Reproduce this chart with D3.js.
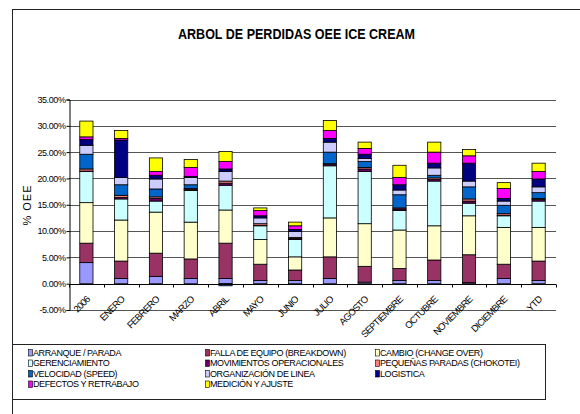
<!DOCTYPE html>
<html><head><meta charset="utf-8">
<script src="https://cdn.jsdelivr.net/npm/d3@7"></script>
<style>
html,body{margin:0;padding:0;background:#fff;}
svg{display:block;font-family:"Liberation Sans",Arial,sans-serif;}
</style></head>
<body><svg id="c" width="580" height="414"></svg>
<script>
const categories = ["2006","ENERO","FEBRERO","MARZO","ABRIL","MAYO","JUNIO","JULIO","AGOSTO","SEPTIEMBRE","OCTUBRE","NOVIEMBRE","DICIEMBRE","YTD"];
const arranque   = [4.0,1.0,1.4,1.0,1.0,0.6,0.6,1.0,0.3,0.6,0.6,0.2,1.0,0.6];
const falla      = [3.7,3.3,4.4,3.7,6.7,3.1,2.0,4.1,3.0,2.3,3.9,5.3,2.7,3.7];
const cambio     = [7.7,7.8,7.8,7.0,6.3,4.7,2.5,7.4,8.1,7.3,6.5,7.4,7.0,6.4];
const gerenciamiento = [5.9,4.0,2.1,6.0,4.7,2.6,3.3,9.9,9.9,3.7,8.5,2.4,2.2,5.0];
const movimientos = [0.1,0.3,0.5,0.2,0.4,0.1,0.2,0.3,0.5,0.3,0.3,0.4,0.1,0.3];
const pequenas   = [0.4,0.4,0.3,0.2,0.4,0.3,0.2,0.1,0.3,0.2,0.3,0.4,0.3,0.2];
const velocidad  = [2.8,2.0,1.5,0.7,-0.4,0.0,0.0,2.2,1.1,2.5,0.5,2.3,1.6,1.1];
const organizacion = [1.7,1.4,1.9,1.4,1.8,1.1,1.1,1.9,0.6,0.9,1.4,1.1,0.8,1.1];
const logistica  = [1.1,7.1,0.7,0.2,0.5,0.4,0.4,0.7,0.8,1.0,0.9,3.4,0.5,1.5];
const defectos   = [0.5,0.3,0.7,1.7,1.4,1.0,0.7,1.5,1.1,1.4,2.1,1.4,1.9,1.4];
const medicion   = [3.0,1.5,2.6,1.5,1.9,0.5,0.7,1.9,1.2,2.3,1.9,1.2,1.1,1.6];

const seriesNames = ["ARRANQUE / PARADA","FALLA DE EQUIPO (BREAKDOWN)","CAMBIO (CHANGE OVER)","GERENCIAMIENTO","MOVIMIENTOS OPERACIONALES","PEQUEÑAS PARADAS (CHOKOTEI)","VELOCIDAD (SPEED)","ORGANIZACIÓN DE LINEA","LOGISTICA","DEFECTOS Y RETRABAJO","MEDICIÓN Y AJUSTE"];
const seriesValues = [arranque,falla,cambio,gerenciamiento,movimientos,pequenas,velocidad,organizacion,logistica,defectos,medicion];
const seriesColors = ["#9999FF","#993366","#FFFFCC","#CCFFFF","#660066","#FF8080","#0066CC","#CCCCFF","#000080","#FF00FF","#FFFF00"];
const yTicks = [-5,0,5,10,15,20,25,30,35];
const chartTitle = "ARBOL DE PERDIDAS OEE ICE CREAM";
const yTitle = "% OEE";

const svg = d3.select("#c");
const L = 69, R = 556, T = 99.5, B = 310;

// outer frame
svg.append("rect").attr("x",12.5).attr("y",9.5).attr("width",600).attr("height",420)
  .attr("fill","none").attr("stroke","#222").attr("stroke-width",1);

// title
svg.append("text").attr("x",296.5).attr("y",39).attr("text-anchor","middle")
  .attr("font-size",15).attr("font-weight","bold")
  .attr("textLength",237).attr("lengthAdjust","spacingAndGlyphs")
  .text(chartTitle);

const rows = categories.map((c,i)=>{
  const o = {cat:c};
  seriesNames.forEach((n,k)=>{ o[n] = seriesValues[k][i]; });
  return o;
});

const x = d3.scaleBand().domain(categories).range([L,R]).paddingInner(0.62).paddingOuter(0.31);
const y = d3.scaleLinear().domain([-5,35]).range([B,T]);

// gridlines
svg.append("g").selectAll("line").data(yTicks).join("line")
  .attr("x1",L).attr("x2",R)
  .attr("y1",d=>Math.round(y(d))+0.5).attr("y2",d=>Math.round(y(d))+0.5)
  .attr("stroke","#555").attr("stroke-width",1);

// y axis
const yAxis = svg.append("g").attr("transform",`translate(${L+0.5},0)`)
  .call(d3.axisLeft(y).tickValues(yTicks).tickSize(3).tickPadding(1).tickFormat(d=>d.toFixed(2)+"%"));
yAxis.select(".domain").attr("stroke","#000");
yAxis.selectAll(".tick line").attr("stroke","#000");
yAxis.selectAll("text").attr("font-size",9).attr("letter-spacing","-0.4px")
  .attr("font-family","'Liberation Sans',Arial,sans-serif").attr("fill","#000");

// y title
svg.append("text").attr("transform","translate(31,205) rotate(-90)")
  .attr("text-anchor","middle").attr("font-size",11).attr("letter-spacing","1px").text(yTitle);

// bars
const stack = d3.stack().keys(seriesNames).offset(d3.stackOffsetDiverging);
const stacked = stack(rows);
svg.append("g").selectAll("g").data(stacked).join("g")
  .attr("fill",(d,i)=>seriesColors[i])
  .selectAll("rect").data(d=>d).join("rect")
  .attr("x",d=>x(d.data.cat)).attr("width",x.bandwidth())
  .attr("y",d=>y(Math.max(d[0],d[1])))
  .attr("height",d=>Math.abs(y(d[0])-y(d[1])))
  .attr("stroke","#000").attr("stroke-width",0.8);

// x axis line at zero
const y0 = Math.round(y(0))+0.5;
svg.append("line").attr("x1",L).attr("x2",R).attr("y1",y0).attr("y2",y0).attr("stroke","#000");
const step = x.step();
const boundaries = d3.range(categories.length+1).map(i=>L + i*step);
svg.append("g").selectAll("line").data(boundaries).join("line")
  .attr("x1",d=>Math.round(d)+0.5).attr("x2",d=>Math.round(d)+0.5)
  .attr("y1",y0).attr("y2",y0+3).attr("stroke","#000");

// x labels
svg.append("g").selectAll("text").data(categories).join("text")
  .attr("transform",d=>`translate(${x(d)+x.bandwidth()/2+4},${300}) rotate(-45)`)
  .attr("text-anchor","end").attr("font-size",9.5).attr("letter-spacing","-0.7px")
  .text(d=>d);

// legend
svg.append("rect").attr("x",12.5).attr("y",344.5).attr("width",533).attr("height",55)
  .attr("fill","#fff").attr("stroke","#222");
const colX = [28,205,375];
const rowY = [352.5,363,373.5,384];
const lg = svg.append("g").selectAll("g").data(seriesNames).join("g")
  .attr("transform",(d,i)=>`translate(${colX[i%3]},${rowY[Math.floor(i/3)]})`);
lg.append("rect").attr("x",0.5).attr("y",-3).attr("width",4).attr("height",6.5)
  .attr("fill",(d,i)=>seriesColors[i]).attr("stroke","#000").attr("stroke-width",0.6);
lg.append("text").attr("x",5).attr("y",3.3).attr("font-size",9).attr("letter-spacing","-0.4px").text(d=>d);
</script></body></html>
